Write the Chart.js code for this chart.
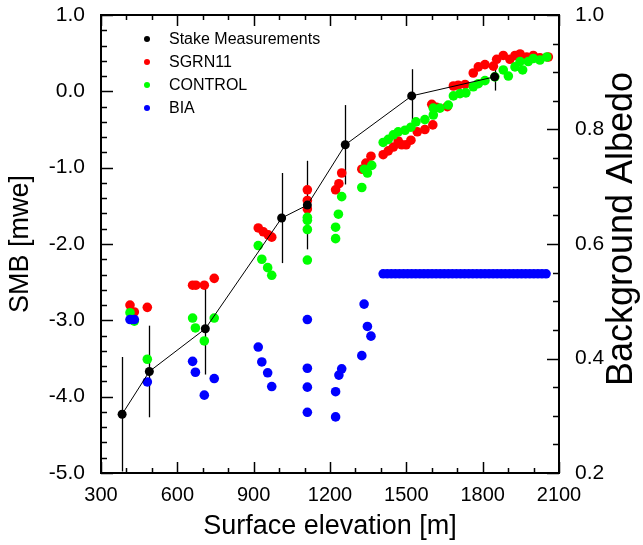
<!DOCTYPE html>
<html>
<head>
<meta charset="utf-8">
<script src="https://cdn.jsdelivr.net/npm/chart.js@4"></script>
<style>
  html, body { margin: 0; padding: 0; background: #fff; }
  #wrap { width: 643px; height: 545px; }
</style>
</head>
<body>
<div id="wrap"><canvas id="smbChart" width="643" height="545"></canvas></div>
<script>
// stake measurements (elevation m, SMB mwe, error bar half length)
const stakeElev = [383, 490, 710, 1010, 1111, 1260, 1521, 1847];
const stakeSmb  = [-4.23, -3.67, -3.11, -1.66, -1.49, -0.70, -0.06, 0.19];
const stakeErr  = [0.75, 0.60, 0.60, 0.59, 0.58, 0.52, 0.35, 0.18];

// SGRN11 model run
const sgrnElev = [414, 431, 482, 660, 673, 706, 745, 918, 938, 957, 971, 1111, 1111, 1111,
  1222, 1235, 1246, 1325, 1341, 1361, 1409, 1429, 1449, 1468, 1482, 1499, 1518, 1543, 1573,
  1604, 1600, 1619, 1661, 1685, 1704, 1731, 1763, 1783, 1809, 1842, 1855, 1881, 1907, 1927,
  1947, 1973, 1999, 2025, 2058];
const sgrnSmb = [-2.80, -2.89, -2.83, -2.54, -2.54, -2.54, -2.45, -1.79, -1.84, -1.88, -1.91, -1.29, -1.43, -1.54,
  -1.29, -1.21, -1.07, -1.02, -0.94, -0.85, -0.83, -0.78, -0.73, -0.65, -0.70, -0.70, -0.64, -0.53, -0.50,
  -0.44, -0.17, -0.21, -0.20, 0.07, 0.08, 0.09, 0.24, 0.32, 0.35, 0.33, 0.42, 0.47, 0.42, 0.47,
  0.49, 0.45, 0.47, 0.44, 0.45];

// CONTROL model run
const ctrlElev = [414, 431, 482, 660, 671, 706, 745, 918, 932, 955, 971, 1111, 1111, 1111, 1111,
  1222, 1222, 1233, 1246, 1325, 1335, 1347, 1364, 1409, 1429, 1449, 1468, 1495, 1518, 1538,
  1573, 1606, 1606, 1632, 1665, 1685, 1711, 1734, 1763, 1783, 1809, 1848, 1881, 1901, 1927,
  1947, 1957, 1979, 1999, 2025, 2052];
const ctrlSmb = [-2.90, -3.01, -3.51, -2.97, -3.10, -3.27, -2.97, -2.02, -2.20, -2.31, -2.41, -1.65, -1.69, -1.81, -2.21,
  -1.78, -1.93, -1.61, -1.38, -1.26, -1.02, -1.07, -0.97, -0.67, -0.63, -0.57, -0.53, -0.51, -0.47, -0.40,
  -0.37, -0.31, -0.22, -0.22, -0.18, -0.06, -0.03, -0.02, 0.06, 0.10, 0.14, 0.19, 0.28, 0.20, 0.32,
  0.39, 0.28, 0.39, 0.43, 0.41, 0.45];

// BIA background albedo (right axis)
const biaElev = [414, 431, 482, 660, 671, 706, 745, 918, 932, 955, 971, 1111, 1111, 1111, 1111,
  1222, 1222, 1235, 1246, 1325, 1334, 1347, 1361,
  1409, 1425, 1441, 1457, 1473, 1489, 1505, 1521, 1537, 1553, 1569, 1585, 1601, 1617, 1633, 1649,
  1665, 1681, 1697, 1713, 1729, 1745, 1761, 1777, 1793, 1809, 1825, 1841, 1857, 1873, 1889, 1905,
  1921, 1937, 1953, 1969, 1985, 2001, 2017, 2033, 2049];
const biaAlbedo = [0.468, 0.468, 0.359, 0.395, 0.376, 0.336, 0.365, 0.420, 0.394, 0.375, 0.351, 0.468, 0.383, 0.350, 0.306,
  0.342, 0.298, 0.371, 0.382, 0.405, 0.495, 0.456, 0.439,
  0.548, 0.548, 0.548, 0.548, 0.548, 0.548, 0.548, 0.548, 0.548, 0.548, 0.548, 0.548, 0.548, 0.548, 0.548, 0.548,
  0.548, 0.548, 0.548, 0.548, 0.548, 0.548, 0.548, 0.548, 0.548, 0.548, 0.548, 0.548, 0.548, 0.548, 0.548, 0.548,
  0.548, 0.548, 0.548, 0.548, 0.548, 0.548, 0.548, 0.548, 0.548];

// axis ticks
const elevMajor = [300, 600, 900, 1200, 1500, 1800, 2100];
const smbMajor = [1, 0, -1, -2, -3, -4, -5];
const albedoMajor = [0.2, 0.4, 0.6, 0.8, 1.0];

const FONT = "'Liberation Sans', Arial, Helvetica, sans-serif";
Chart.defaults.font.family = FONT;
Chart.defaults.color = '#000';

function pts(xs, ys) {
  return xs.map((x, i) => ({ x: x, y: ys[i] }));
}

// every 100 m on x, every 0.2 on SMB, every 0.05 on albedo
const elevMinor = [];
for (let v = 300; v <= 2100; v += 100) elevMinor.push(v);
const smbMinor = [];
for (let i = 0; i <= 30; i++) smbMinor.push(-5 + i * 0.2);
const albedoMinor = [];
for (let i = 0; i <= 16; i++) albedoMinor.push(0.2 + i * 0.05);

const framePlugin = {
  id: 'frame',
  beforeDatasetsDraw(chart) {
    // error bars on the stakes
    const c = chart.ctx, x = chart.scales.x, y = chart.scales.y;
    c.save();
    c.beginPath();
    c.rect(chart.chartArea.left, chart.chartArea.top, chart.chartArea.width, chart.chartArea.height);
    c.clip();
    c.strokeStyle = '#000';
    c.lineWidth = 1.3;
    stakeElev.forEach((e, i) => {
      const px = Math.round(x.getPixelForValue(e)) + 0.5;
      c.beginPath();
      c.moveTo(px, y.getPixelForValue(stakeSmb[i] + stakeErr[i]));
      c.lineTo(px, y.getPixelForValue(stakeSmb[i] - stakeErr[i]));
      c.stroke();
    });
    c.restore();
  },
  afterDraw(chart) {
    const c = chart.ctx, a = chart.chartArea;
    const x = chart.scales.x, y = chart.scales.y, y2 = chart.scales.y2;
    c.save();
    c.strokeStyle = '#000';
    c.lineWidth = 1.5;
    // x ticks, bottom and top
    elevMinor.forEach(v => {
      const len = elevMajor.includes(v) ? 11 : 5;
      const px = Math.round(x.getPixelForValue(v)) + 0.5;
      c.beginPath();
      c.moveTo(px, a.bottom); c.lineTo(px, a.bottom - len);
      c.moveTo(px, a.top); c.lineTo(px, a.top + len);
      c.stroke();
    });
    // left ticks
    smbMinor.forEach(v => {
      const major = Math.abs(v - Math.round(v)) < 1e-6;
      const py = Math.round(y.getPixelForValue(v)) + 0.5;
      c.beginPath();
      c.moveTo(a.left, py); c.lineTo(a.left + (major ? 12 : 6), py);
      c.stroke();
    });
    // right ticks
    albedoMinor.forEach(v => {
      const major = albedoMajor.some(m => Math.abs(m - v) < 1e-6);
      const py = Math.round(y2.getPixelForValue(v)) + 0.5;
      c.beginPath();
      c.moveTo(a.right, py); c.lineTo(a.right - (major ? 12 : 6), py);
      c.stroke();
    });
    // frame
    c.lineWidth = 2;
    c.strokeRect(a.left, a.top, a.right - a.left, a.bottom - a.top);

    // legend inside plot
    c.font = '16px ' + FONT;
    c.textBaseline = 'middle';
    c.textAlign = 'left';
    chart.data.datasets.forEach((ds, i) => {
      const ly = 39 + i * 23;
      c.fillStyle = ds.backgroundColor;
      c.beginPath();
      c.arc(147, ly, 3, 0, Math.PI * 2);
      c.fill();
      c.fillStyle = '#000';
      c.fillText(ds.label, 169, ly + 1);
    });

    // right axis title, reading bottom to top
    c.translate(622, 229);
    c.rotate(-Math.PI / 2);
    c.font = '36px ' + FONT;
    c.textAlign = 'center';
    c.fillText('Background Albedo', 0, 0);
    c.restore();
  }
};

// keep the tick labels from pushing the plot frame down
function noOverhang(s, width) {
  s.width = width;
  s.paddingTop = 0;
  s.paddingBottom = 0;
}

const ctx = document.getElementById('smbChart').getContext('2d');
new Chart(ctx, {
  type: 'scatter',
  data: {
    datasets: [
      {
        label: 'Stake Measurements',
        data: pts(stakeElev, stakeSmb),
        showLine: true,
        borderColor: '#000',
        borderWidth: 1,
        backgroundColor: '#000',
        pointBorderWidth: 0,
        pointRadius: 4.5,
        yAxisID: 'y',
        order: 0
      },
      {
        label: 'SGRN11',
        data: pts(sgrnElev, sgrnSmb),
        backgroundColor: '#ff0000',
        pointBorderWidth: 0,
        pointRadius: 4.8,
        yAxisID: 'y',
        order: 3
      },
      {
        label: 'CONTROL',
        data: pts(ctrlElev, ctrlSmb),
        backgroundColor: '#00ff00',
        pointBorderWidth: 0,
        pointRadius: 4.8,
        yAxisID: 'y',
        order: 2
      },
      {
        label: 'BIA',
        data: pts(biaElev, biaAlbedo),
        backgroundColor: '#0000ff',
        pointBorderWidth: 0,
        pointRadius: 4.8,
        yAxisID: 'y2',
        order: 1
      }
    ]
  },
  options: {
    responsive: false,
    animation: false,
    layout: { padding: { top: 15, left: 0, right: 0, bottom: 0 } },
    plugins: {
      legend: { display: false },
      tooltip: { enabled: false }
    },
    scales: {
      x: {
        type: 'linear',
        position: 'bottom',
        min: 300,
        max: 2100,
        afterBuildTicks: s => { s.ticks = elevMajor.map(v => ({ value: v })); },
        ticks: { font: { size: 20 }, padding: 10, maxRotation: 0, autoSkip: false, callback: v => String(v) },
        grid: { display: false, drawTicks: false },
        border: { display: false },
        title: { display: true, text: 'Surface elevation [m]', font: { size: 27 }, padding: { top: 0, bottom: 2 } },
        afterFit: s => { s.height = 72; s.paddingLeft = 0; s.paddingRight = 0; }
      },
      y: {
        type: 'linear',
        position: 'left',
        min: -5,
        max: 1,
        afterBuildTicks: s => { s.ticks = smbMajor.map(v => ({ value: v })); },
        ticks: { font: { size: 21 }, padding: 16, callback: v => v.toFixed(1) },
        grid: { display: false, drawTicks: false },
        border: { display: false },
        title: { display: true, text: 'SMB [mwe]', font: { size: 27 }, padding: { top: 4, bottom: 0 } },
        afterFit: s => noOverhang(s, 101)
      },
      y2: {
        type: 'linear',
        position: 'right',
        min: 0.2,
        max: 1.0,
        afterBuildTicks: s => { s.ticks = albedoMajor.map(v => ({ value: v })); },
        ticks: { font: { size: 21 }, padding: 16, callback: v => v.toFixed(1) },
        grid: { display: false, drawTicks: false },
        border: { display: false },
        afterFit: s => noOverhang(s, 84)
      }
    }
  },
  plugins: [framePlugin]
});
</script>
</body>
</html>
